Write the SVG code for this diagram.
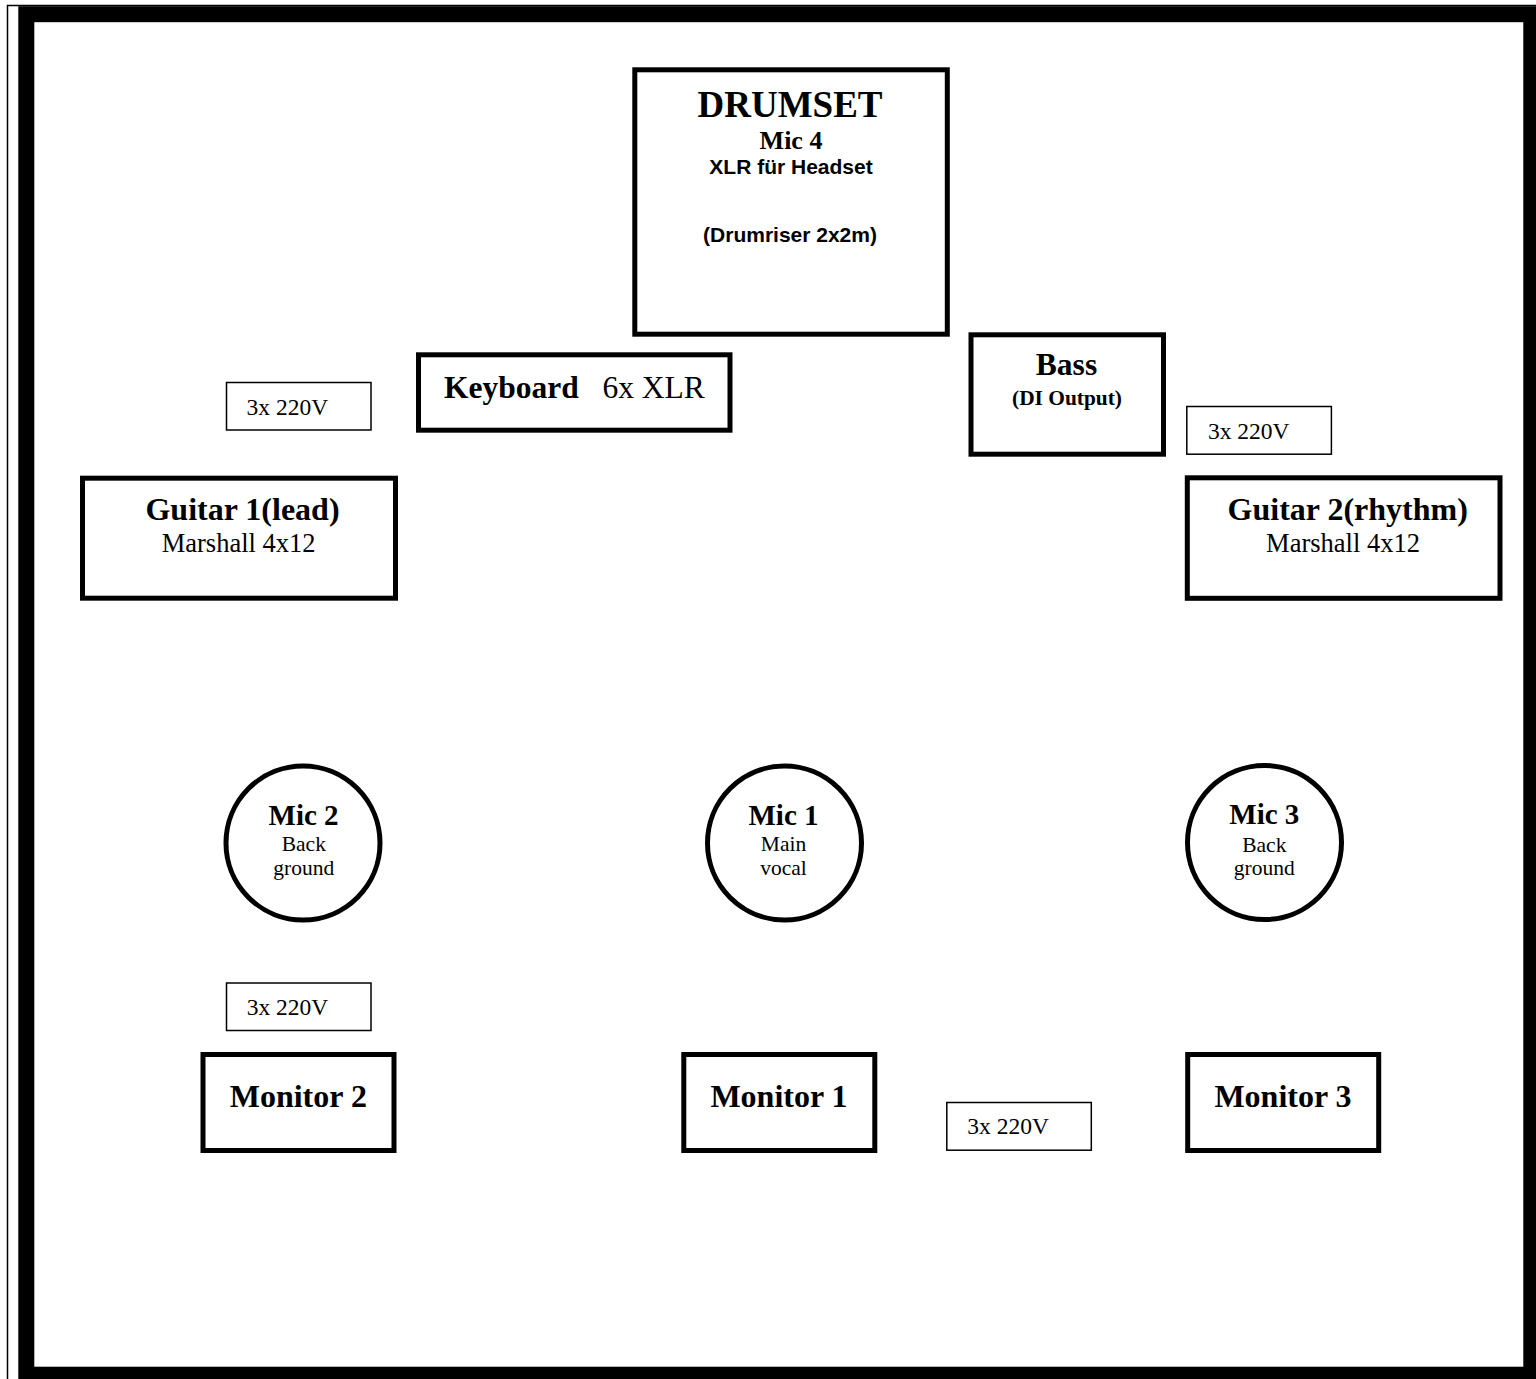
<svg xmlns="http://www.w3.org/2000/svg" width="1536" height="1379" viewBox="0 0 1536 1379">
<style>
.box{fill:#fff;stroke:#000;stroke-width:5}
.thin{fill:#fff;stroke:#000;stroke-width:1.5}
.circ{fill:#fff;stroke:#000;stroke-width:5}
.t{font-family:"Liberation Serif","Times New Roman",serif;fill:#000}
.b{font-weight:bold}
.s{font-family:"Liberation Sans",Arial,sans-serif;font-weight:bold;fill:#000}
.c{text-anchor:middle}
</style>
<rect width="1536" height="1379" fill="#fff"/>
<g id="frame">
<path d="M7.5 1379 V5.5 H1536" fill="none" stroke="#000" stroke-width="1.5"/>
<rect x="26.3" y="14.2" width="1505" height="1360.5" fill="none" stroke="#000" stroke-width="16"/>
</g>
<g id="connectors"></g>
<g id="drumset">
<rect class="box" x="634.8" y="69.8" width="312.5" height="264.4"/>
<text class="t b c" x="790" y="116.7" font-size="37">DRUMSET</text>
<text class="t b c" x="791" y="149.3" font-size="26">Mic 4</text>
<text class="s c" x="791" y="174.3" font-size="21">XLR für Headset</text>
<text class="s c" x="790" y="241.5" font-size="21">(Drumriser 2x2m)</text>
</g>
<g id="keyboard">
<rect class="box" x="418.5" y="354.8" width="311.5" height="75.4"/>
<text class="t" x="444" y="398.3" font-size="31.5"><tspan font-weight="bold">Keyboard</tspan><tspan x="602.4">6x XLR</tspan></text>
</g>
<g id="bass">
<rect class="box" x="971" y="334.8" width="192.5" height="119.4"/>
<text class="t b c" x="1066.5" y="375" font-size="31.5">Bass</text>
<text class="t b c" x="1067" y="405" font-size="21.4">(DI Output)</text>
</g>
<g id="power-ul">
<rect class="thin" x="226.5" y="382.5" width="144.5" height="47.5"/>
<text class="t" x="246.6" y="415" font-size="23.5">3x 220V</text>
</g>
<g id="power-ur">
<rect class="thin" x="1186.8" y="406.5" width="144.6" height="47.7"/>
<text class="t" x="1207.9" y="439" font-size="23.5">3x 220V</text>
</g>
<g id="guitar1">
<rect class="box" x="82.5" y="478.2" width="313" height="120"/>
<text class="t b c" x="242.5" y="520" font-size="32">Guitar 1(lead)</text>
<text class="t c" x="238.6" y="551.7" font-size="26.5">Marshall 4x12</text>
</g>
<g id="guitar2">
<rect class="box" x="1187.3" y="477.8" width="312.7" height="120.5"/>
<text class="t b c" x="1347.7" y="520" font-size="32">Guitar 2(rhythm)</text>
<text class="t c" x="1343" y="551.7" font-size="26.5">Marshall 4x12</text>
</g>
<g id="mic2">
<circle class="circ" cx="303" cy="843" r="77"/>
<text class="t b c" x="303.6" y="825" font-size="29">Mic 2</text>
<text class="t c" x="303.8" y="851" font-size="21.5">Back</text>
<text class="t c" x="303.8" y="875" font-size="21.5">ground</text>
</g>
<g id="mic1">
<circle class="circ" cx="784.5" cy="843" r="77"/>
<text class="t b c" x="783.5" y="825" font-size="29">Mic 1</text>
<text class="t c" x="783.5" y="851" font-size="21.5">Main</text>
<text class="t c" x="783.5" y="875" font-size="21.5">vocal</text>
</g>
<g id="mic3">
<circle class="circ" cx="1264.5" cy="842.5" r="77"/>
<text class="t b c" x="1264.3" y="824.3" font-size="29">Mic 3</text>
<text class="t c" x="1264.3" y="851.5" font-size="21.5">Back</text>
<text class="t c" x="1264.3" y="875" font-size="21.5">ground</text>
</g>
<g id="power-ll">
<rect class="thin" x="226.5" y="983" width="144.5" height="47.5"/>
<text class="t" x="246.7" y="1015" font-size="23.5">3x 220V</text>
</g>
<g id="power-bm">
<rect class="thin" x="946.8" y="1102.5" width="144.5" height="47.7"/>
<text class="t" x="967.3" y="1134.3" font-size="23.5">3x 220V</text>
</g>
<g id="monitor2">
<rect class="box" x="203" y="1054.5" width="191" height="96"/>
<text class="t b c" x="298.3" y="1106.7" font-size="32">Monitor 2</text>
</g>
<g id="monitor1">
<rect class="box" x="683.8" y="1054.5" width="191" height="96"/>
<text class="t b c" x="779" y="1106.7" font-size="32">Monitor 1</text>
</g>
<g id="monitor3">
<rect class="box" x="1187.7" y="1054.5" width="191" height="96"/>
<text class="t b c" x="1283" y="1106.7" font-size="32">Monitor 3</text>
</g>
</svg>
